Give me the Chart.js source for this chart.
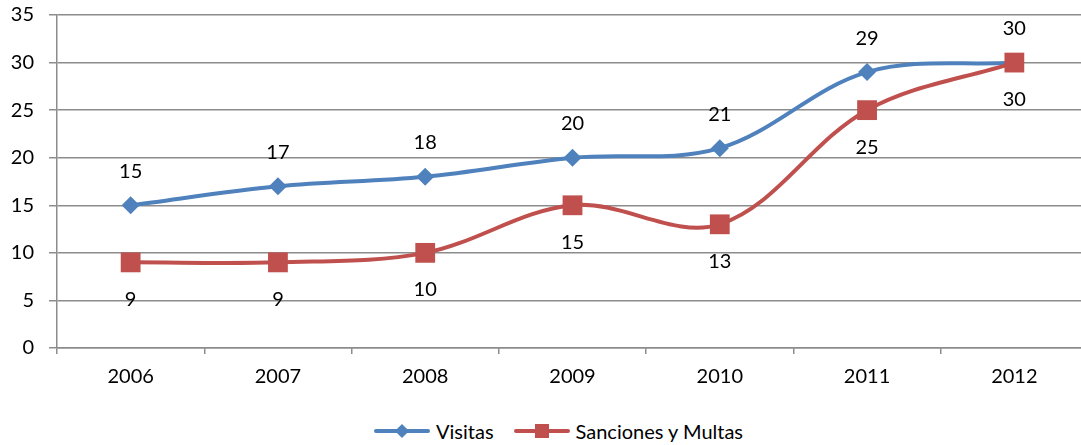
<!DOCTYPE html>
<html>
<head>
<meta charset="utf-8">
<script src="https://cdn.jsdelivr.net/npm/chart.js@4"></script>
<style>
  html, body { margin: 0; padding: 0; background: #fff; overflow: hidden; }
  #wrap { position: relative; width: 1081px; height: 445px; overflow: hidden; }
  #lineChart { position: absolute; left: 0; top: 0; }
  #legend {
    position: absolute; left: 18px; top: 418px; width: 1081px; height: 26px;
    display: flex; justify-content: center; align-items: center;
    font-family: Lato, 'Open Sans', sans-serif; font-size: 20px; color: #000;
  }
  .item { display: flex; align-items: center; margin: 0 10px; }
  .sym { position: relative; width: 56px; height: 20px; margin-right: 6px; }
  .sym .ln { position: absolute; left: 0; right: 0; top: 8px; height: 4px; border-radius: 2px; }
  .sym .mk { position: absolute; left: 50%; top: 50%; }
</style>
</head>
<body>
<div id="wrap">
  <canvas id="lineChart" width="1088" height="405"></canvas>
  <div id="legend"></div>
</div>
<script>
const years = ['2006', '2007', '2008', '2009', '2010', '2011', '2012'];
const visitas = [15, 17, 18, 20, 21, 29, 30];
const sanciones = [9, 9, 10, 15, 13, 25, 30];
const yTicks = [0, 5, 10, 15, 20, 25, 30, 35];

const blue = '#4F81BD';
const red = '#C0504D';
const grey = '#8c8c8c';
const fontFamily = "Lato, 'Open Sans', sans-serif";

Chart.defaults.font.family = fontFamily;
Chart.defaults.color = '#000';

// draws the value of each point, above for the first series, below for the second
const valueLabels = {
    id: 'valueLabels',
    afterDatasetsDraw(chart) {
        const ctx = chart.ctx;
        ctx.save();
        ctx.font = '20px ' + fontFamily;
        ctx.fillStyle = '#000';
        ctx.textAlign = 'center';
        ctx.textBaseline = 'middle';
        chart.data.datasets.forEach((ds, i) => {
            const meta = chart.getDatasetMeta(i);
            const dy = i === 0 ? -34 : 37;
            meta.data.forEach((pt, j) => {
                ctx.fillText(ds.data[j], pt.x, pt.y + dy);
            });
        });
        ctx.restore();
    }
};

const ctx = document.getElementById('lineChart').getContext('2d');
new Chart(ctx, {
    type: 'line',
    data: {
        labels: years,
        datasets: [{
            label: 'Visitas',
            data: visitas,
            borderColor: blue,
            backgroundColor: blue,
            borderWidth: 4,
            tension: 0.35,
            pointStyle: 'rectRot',
            pointRadius: 9,
            pointBorderWidth: 0,
            order: 1
        }, {
            label: 'Sanciones y Multas',
            data: sanciones,
            borderColor: red,
            backgroundColor: red,
            borderWidth: 4,
            tension: 0.35,
            pointStyle: 'rect',
            pointRadius: 14,
            pointBorderWidth: 0,
            order: 0
        }]
    },
    options: {
        responsive: false,
        animation: false,
        layout: { autoPadding: false, padding: { top: 15, right: 0, left: 0, bottom: 0 } },
        plugins: {
            legend: { display: false },
            tooltip: { enabled: false }
        },
        scales: {
            x: {
                offset: true,
                grid: {
                    offset: true,
                    drawOnChartArea: false,
                    drawTicks: true,
                    tickLength: 6,
                    color: grey,
                    lineWidth: 1.5
                },
                border: { color: grey, width: 1.5 },
                ticks: { font: { size: 20 }, padding: 11, color: '#000' },
                afterFit: function(scale) {
                    scale.height = 57;
                    scale.paddingLeft = 0;
                    scale.paddingRight = 0;
                }
            },
            y: {
                min: 0,
                max: 35,
                afterBuildTicks: function(scale) {
                    scale.ticks = yTicks.map(v => ({ value: v }));
                },
                grid: {
                    color: grey,
                    lineWidth: 1.5,
                    drawTicks: true,
                    tickLength: 8
                },
                border: { color: grey, width: 1.5 },
                ticks: { font: { size: 20 }, padding: 15, color: '#000' },
                afterFit: function(scale) {
                    scale.width = 57;
                    scale.paddingTop = 0;
                    scale.paddingBottom = 0;
                }
            }
        }
    },
    plugins: [valueLabels]
});

// legend with a line and marker, like the original
const legendEl = document.getElementById('legend');
[
    { name: 'Visitas', color: blue, mark: 'diamond' },
    { name: 'Sanciones y Multas', color: red, mark: 'square' }
].forEach(s => {
    const mk = s.mark === 'diamond'
        ? `<div class="mk" style="width:10px;height:10px;background:${s.color};transform:translate(-50%,-50%) rotate(45deg);"></div>`
        : `<div class="mk" style="width:14px;height:14px;background:${s.color};transform:translate(-50%,-50%);"></div>`;
    legendEl.innerHTML += `<div class="item"><div class="sym"><div class="ln" style="background:${s.color}"></div>${mk}</div><span>${s.name}</span></div>`;
});
</script>
</body>
</html>
